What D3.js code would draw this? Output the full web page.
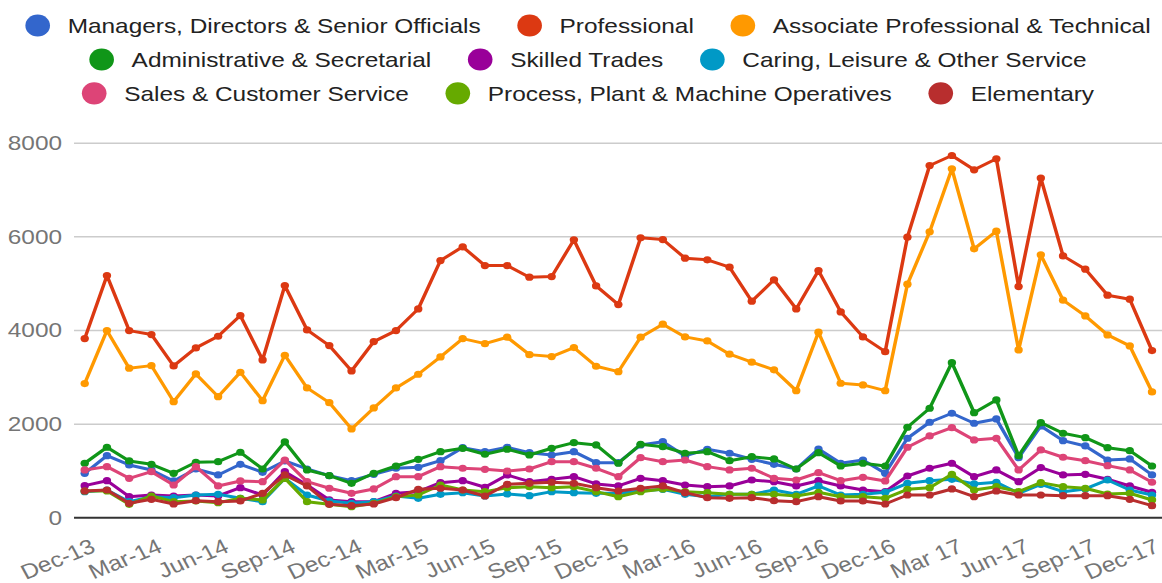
<!DOCTYPE html>
<html>
<head>
<meta charset="utf-8">
<script src="https://cdn.jsdelivr.net/npm/d3@7"></script>
<style>
  html, body { margin: 0; padding: 0; background: #fff; }
  svg { display: block; font-family: "Liberation Sans", Arial, sans-serif; }
</style>
</head>
<body>
<svg id="chart" width="1162" height="583"></svg>
<script>
// ---------------- DATA ----------------
const months = ["Dec-13","Jan-14","Feb-14","Mar-14","Apr-14","May-14","Jun-14","Jul-14","Aug-14","Sep-14","Oct-14","Nov-14",
  "Dec-14","Jan-15","Feb-15","Mar-15","Apr-15","May-15","Jun-15","Jul-15","Aug-15","Sep-15","Oct-15","Nov-15",
  "Dec-15","Jan-16","Feb-16","Mar-16","Apr-16","May-16","Jun-16","Jul-16","Aug-16","Sep-16","Oct-16","Nov-16",
  "Dec-16","Jan-17","Feb-17","Mar-17","Apr-17","May-17","Jun-17","Jul-17","Aug-17","Sep-17","Oct-17","Nov-17","Dec-17"];
const tickLabels = ["Dec-13","Mar-14","Jun-14","Sep-14","Dec-14","Mar-15","Jun-15","Sep-15","Dec-15",
  "Mar-16","Jun-16","Sep-16","Dec-16","Mar 17","Jun-17","Sep-17","Dec-17"];
const yTicks = [0, 2000, 4000, 6000, 8000];

const seriesNames = ["Managers, Directors & Senior Officials","Professional","Associate Professional & Technical",
  "Administrative & Secretarial","Skilled Trades","Caring, Leisure & Other Service",
  "Sales & Customer Service","Process, Plant & Machine Operatives","Elementary"];
const seriesColors = ["#3366cc","#dc3912","#ff9900","#109618","#990099","#0099c6","#dd4477","#66aa00","#b82e2e"];

const managers = [940,1316,1118,1011,776,1032,904,1132,961,1203,1032,889,782,918,1047,1068,1209,1487,1402,1496,1380,1331,1402,1167,1167,1545,1615,1310,1453,1368,1239,1132,1032,1459,1154,1224,940,1688,2030,2222,2009,2100,1274,1951,1637,1524,1224,1246,904];
const professional = [3816,5162,3987,3902,3233,3618,3867,4308,3361,4949,4002,3667,3126,3752,3987,4451,5483,5776,5376,5376,5128,5141,5925,4942,4543,5968,5932,5534,5498,5342,4615,5071,4451,5269,4387,3853,3538,5983,7513,7727,7421,7656,4928,7244,5583,5299,4744,4658,3560];
const associate = [2855,3987,3184,3239,2470,3062,2577,3098,2491,3461,2763,2449,1887,2335,2763,3055,3425,3816,3709,3846,3474,3432,3624,3226,3111,3846,4124,3853,3767,3483,3312,3150,2705,3953,2863,2827,2705,4979,6096,7442,5733,6111,3575,5605,4637,4301,3895,3660,2677];
const administrative = [1154,1496,1203,1132,940,1175,1188,1389,1032,1609,1011,889,726,940,1096,1239,1402,1474,1346,1453,1331,1474,1594,1545,1154,1560,1509,1368,1402,1209,1295,1246,1032,1380,1096,1154,1096,1923,2329,3303,2235,2506,1316,2021,1795,1701,1487,1423,1096];
const skilled = [676,782,440,476,455,476,455,633,476,975,690,370,334,334,513,548,740,782,641,904,761,812,868,712,669,833,782,690,654,669,797,761,669,782,669,583,548,882,1047,1154,868,1011,761,1061,904,918,812,669,534];
const caring = [548,583,334,440,419,476,491,406,334,833,476,348,299,334,455,406,491,526,455,498,462,548,526,513,513,562,598,491,440,491,491,583,491,669,476,491,534,726,782,812,712,748,513,705,548,605,797,583,476];
const sales = [1011,1082,833,975,690,1082,669,776,761,1224,761,620,513,605,868,868,1082,1047,1025,989,1032,1188,1188,1047,868,1274,1188,1224,1082,1011,1047,833,797,954,782,854,776,1496,1737,1915,1652,1688,1011,1438,1282,1209,1103,1011,748];
const process = [562,562,278,455,334,348,312,406,370,833,334,278,227,299,440,476,690,583,548,633,654,633,654,548,440,548,605,548,526,491,491,491,455,534,440,440,406,598,633,918,583,654,548,740,654,620,498,513,370];
const elementary = [562,583,299,384,284,355,334,348,513,904,669,278,248,284,419,598,620,583,455,705,726,748,726,633,562,620,669,526,419,406,419,355,334,440,348,348,284,476,476,605,440,562,476,476,462,462,462,384,248];

const seriesValues = [managers, professional, associate, administrative, skilled, caring, sales, process, elementary];

// ---------------- LAYOUT ----------------
const W = 1162, H = 583;
const stretch = 1.162;           // whole chart is drawn horizontally stretched
const innerW = W / stretch;      // ~1000
const plotLeft = 63.7, plotRight = innerW;
const fontSize = 21;

const svg = d3.select("#chart");
const g = svg.append("g").attr("transform", `scale(${stretch},1)`);

const x = d3.scalePoint().domain(d3.range(months.length)).range([72.9, 991.4]);
const y = d3.scaleLinear().domain([0, 8000]).range([517.3, 142.7]);

// Y axis with gridlines
const yAxis = g.append("g")
  .attr("transform", `translate(${plotLeft},0)`)
  .call(d3.axisLeft(y).tickValues(yTicks).tickSize(-(plotRight - plotLeft)).tickPadding(10.3).tickFormat(d3.format("d")));
yAxis.select(".domain").remove();
yAxis.selectAll(".tick line").attr("stroke", "#cccccc").attr("stroke-width", 1.5);
yAxis.selectAll(".tick text").attr("fill", "#757575").attr("font-size", fontSize).attr("font-family", "Liberation Sans, Arial, sans-serif");
yAxis.selectAll(".tick").filter(d => d === 0).select("line").attr("stroke", "#333333").attr("stroke-width", 2);

// X axis labels
const xTickIdx = d3.range(0, months.length, 3);
const xAxis = g.append("g")
  .attr("transform", `translate(0,${y(0)})`)
  .call(d3.axisBottom(x).tickValues(xTickIdx).tickSize(0).tickFormat((d, i) => tickLabels[i]));
xAxis.select(".domain").remove();
xAxis.selectAll(".tick text")
  .each(function(d) {
    // keep the last label inside the picture
    const ax = Math.min(10, plotRight - 1.5 - x(d));
    d3.select(this)
      .attr("fill", "#757575")
      .attr("font-size", fontSize)
      .attr("font-family", "Liberation Sans, Arial, sans-serif")
      .attr("text-anchor", "end")
      .attr("x", ax).attr("y", 34).attr("dy", 0)
      .attr("transform", `rotate(-25,${ax},34)`);
  });

// Lines and points
const line = d3.line().x((d, i) => x(i)).y(d => y(d));
seriesValues.forEach((vals, s) => {
  const sg = g.append("g");
  sg.append("path")
    .datum(vals)
    .attr("d", line)
    .attr("fill", "none")
    .attr("stroke", seriesColors[s])
    .attr("stroke-width", 3)
    .attr("stroke-linejoin", "round");
  sg.selectAll("circle")
    .data(vals)
    .join("circle")
    .attr("cx", (d, i) => x(i))
    .attr("cy", d => y(d))
    .attr("r", 3.6)
    .attr("fill", seriesColors[s]);
});

// Legend
const legendRows = [[0, 1, 2], [3, 4, 5], [6, 7, 8]];
const rowY = [25.5, 59.5, 93.3];
const legendCenter = 506, itemGap = 31.6, rx = 10.6, ry = 11.1, textOffset = 36.4;
const legend = g.append("g");
legendRows.forEach((row, r) => {
  const items = row.map(s => {
    const it = legend.append("g");
    it.append("ellipse").attr("rx", rx).attr("ry", ry).attr("cx", rx).attr("cy", rowY[r]).attr("fill", seriesColors[s]);
    const t = it.append("text")
      .attr("x", textOffset).attr("y", rowY[r]).attr("dy", "0.35em")
      .attr("font-size", fontSize).attr("fill", "#222222")
      .text(seriesNames[s]);
    return { g: it, w: textOffset + t.node().getComputedTextLength() };
  });
  const total = d3.sum(items, d => d.w) + itemGap * (items.length - 1);
  let cx = legendCenter - total / 2;
  items.forEach(it => { it.g.attr("transform", `translate(${cx},0)`); cx += it.w + itemGap; });
});
</script>
</body>
</html>
